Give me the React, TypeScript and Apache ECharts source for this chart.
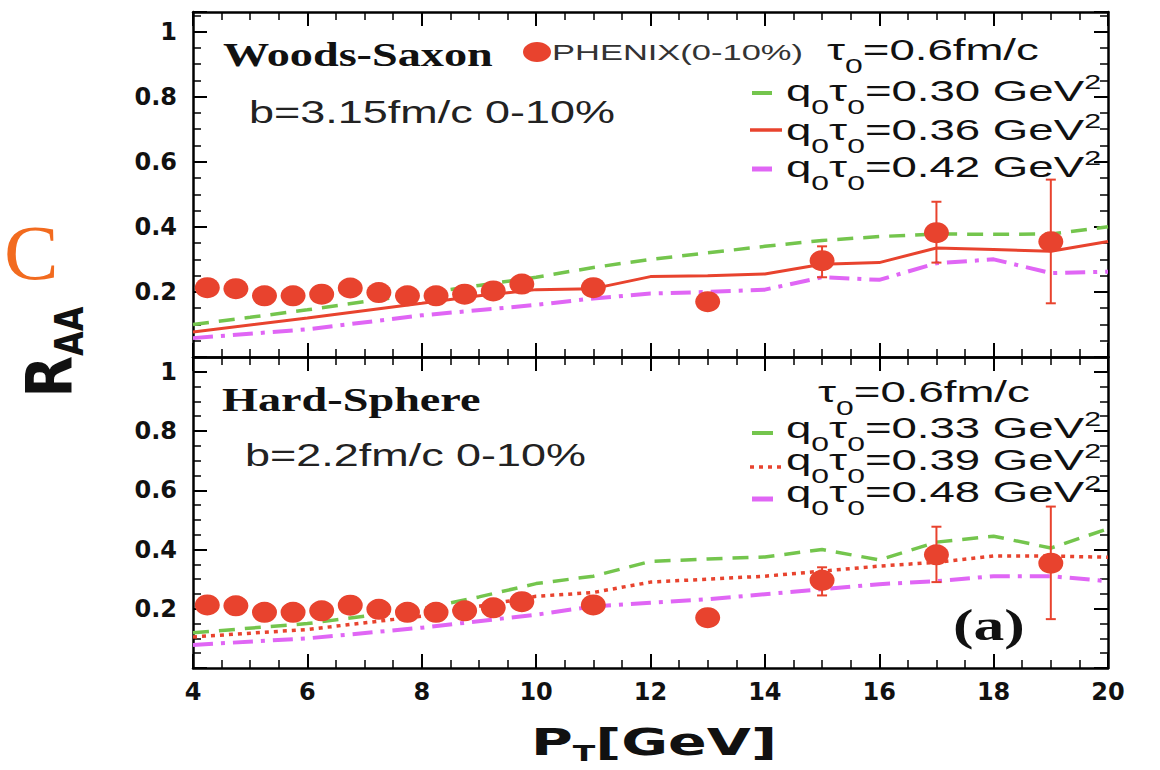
import React, { useEffect, useRef } from "react";
import * as echarts from "echarts";

// PHENIX data (0-10%)
const ptData = [4.25, 4.75, 5.25, 5.75, 6.25, 6.75, 7.25, 7.75, 8.25, 8.75, 9.25, 9.75, 11, 13, 15, 17, 19];
const raaData = [0.213, 0.21, 0.188, 0.188, 0.193, 0.212, 0.198, 0.188, 0.188, 0.193, 0.203, 0.224, 0.213, 0.17, 0.296, 0.382, 0.354];
const errPt = [15, 17, 19];
const errLow = [0.245, 0.29, 0.165];
const errHigh = [0.34, 0.477, 0.545];

// Woods-Saxon curves
const wsGreenX = [4, 5, 6, 7, 8, 9, 10, 11, 12, 13, 14, 15, 16, 17, 18, 19, 20];
const wsGreenY = [0.1, 0.122, 0.145, 0.17, 0.195, 0.22, 0.245, 0.275, 0.3, 0.32, 0.34, 0.358, 0.37, 0.378, 0.377, 0.378, 0.4];
const wsRedX = [4, 6, 8, 9, 10, 11, 12, 13, 14, 15, 16, 17, 18, 19, 20];
const wsRedY = [0.077, 0.12, 0.165, 0.188, 0.207, 0.21, 0.247, 0.25, 0.255, 0.285, 0.29, 0.335, 0.33, 0.325, 0.355];
const wsMagX = [4, 6, 8, 10, 11, 12, 13, 14, 15, 16, 17, 18, 19, 20];
const wsMagY = [0.058, 0.085, 0.128, 0.16, 0.18, 0.195, 0.2, 0.207, 0.245, 0.237, 0.288, 0.3, 0.258, 0.262];

// Hard-Sphere curves
const hsGreenX = [4, 6, 8, 9, 10, 11, 12, 13, 14, 15, 16, 17, 18, 19, 20];
const hsGreenY = [0.119, 0.15, 0.2, 0.24, 0.285, 0.31, 0.36, 0.368, 0.375, 0.4, 0.365, 0.425, 0.445, 0.405, 0.47];
const hsRedX = [4, 6, 8, 10, 11, 12, 13, 14, 15, 16, 17, 18, 19, 20];
const hsRedY = [0.105, 0.13, 0.175, 0.242, 0.255, 0.29, 0.3, 0.31, 0.327, 0.344, 0.357, 0.378, 0.378, 0.374];
const hsMagX = [4, 6, 8, 10, 11, 12, 13, 14, 15, 16, 17, 18, 19, 20];
const hsMagY = [0.078, 0.1, 0.136, 0.18, 0.208, 0.22, 0.232, 0.249, 0.266, 0.283, 0.293, 0.31, 0.31, 0.293];

const wsLegend = ["0.30", "0.36", "0.42"];
const hsLegend = ["0.33", "0.39", "0.48"];

const GREEN = "#74c54d";
const RED = "#e8432e";
const MAG = "#e066f5";
const SANS = "'Liberation Sans', Arial, sans-serif";
const SERIF = "'Liberation Serif', 'Times New Roman', serif";
const BOLD = "'DejaVu Sans', sans-serif";

const zip = (xs: number[], ys: number[]) => xs.map((x, i) => [x, ys[i]]);

const axisLineStyle = { color: "#000", width: 2.5 };

function xAx(grid: number, pos: string, labels: boolean) {
  return {
    type: "value", gridIndex: grid, position: pos, min: 4, max: 20, interval: 2,
    axisLine: { show: true, onZero: false, lineStyle: axisLineStyle },
    axisTick: { show: true, inside: true, length: 14, lineStyle: { color: "#000", width: 2 } },
    minorTick: { show: true, splitNumber: 4, length: 8, lineStyle: { color: "#000", width: 1.5 } },
    splitLine: { show: false }, minorSplitLine: { show: false },
    axisLabel: labels
      ? { show: true, margin: 12, color: "#111", fontFamily: BOLD, fontWeight: "bold", fontSize: 24 }
      : { show: false },
  };
}

function yAx(grid: number, pos: string, labels: boolean, max: number) {
  return {
    type: "value", gridIndex: grid, position: pos, min: 0, max, interval: 0.2,
    axisLine: { show: true, onZero: false, lineStyle: axisLineStyle },
    axisTick: { show: true, inside: true, length: 14, lineStyle: { color: "#000", width: 2 } },
    minorTick: { show: true, splitNumber: 4, length: 8, lineStyle: { color: "#000", width: 1.5 } },
    splitLine: { show: false }, minorSplitLine: { show: false },
    axisLabel: labels
      ? {
          show: true, margin: 16, color: "#111", fontFamily: BOLD, fontWeight: "bold", fontSize: 24,
          formatter: (v: number) => {
            if (v < 0.01) return "";
            const r = Math.round(v * 5);
            if (Math.abs(v * 5 - r) > 1e-6) return "";
            return String(+v.toFixed(1));
          },
        }
      : { show: false },
  };
}

function errSeries(xi: number, yi: number) {
  return {
    type: "custom", xAxisIndex: xi, yAxisIndex: yi, z: 4,
    data: errPt.map((x, i) => [x, errLow[i], errHigh[i]]),
    encode: { x: 0, y: [1, 2] },
    renderItem: (_p: any, api: any) => {
      const x = api.value(0);
      const a = api.coord([x, api.value(1)]);
      const b = api.coord([x, api.value(2)]);
      const w = 5;
      const st = { stroke: RED, lineWidth: 2 };
      return {
        type: "group",
        children: [
          { type: "line", shape: { x1: a[0], y1: a[1], x2: b[0], y2: b[1] }, style: st },
          { type: "line", shape: { x1: a[0] - w, y1: a[1], x2: a[0] + w, y2: a[1] }, style: st },
          { type: "line", shape: { x1: b[0] - w, y1: b[1], x2: b[0] + w, y2: b[1] }, style: st },
        ],
      };
    },
  };
}

function lineSeries(name: string, xi: number, yi: number, data: number[][], color: string, width: number, type: any) {
  return {
    type: "line", name, xAxisIndex: xi, yAxisIndex: yi, data, showSymbol: false, symbol: "none",
    smooth: false, z: 3, lineStyle: { color, width, type },
  };
}

function scatterSeries(xi: number, yi: number) {
  return {
    type: "scatter", name: "PHENIX(0-10%)", xAxisIndex: xi, yAxisIndex: yi, z: 5,
    data: zip(ptData, raaData), symbol: "circle", symbolSize: [25, 21],
    itemStyle: { color: RED, opacity: 1 },
  };
}

type Seg = { t: string; size: number; dy: number };

let measureCtx: CanvasRenderingContext2D | null = null;
function textWidth(t: string, size: number, family: string, weight: string) {
  if (!measureCtx) measureCtx = document.createElement("canvas").getContext("2d");
  if (!measureCtx) return t.length * size * 0.55;
  measureCtx.font = `${weight} ${size}px ${family}`;
  return measureCtx.measureText(t).width;
}

function seqText(
  x: number, y: number, segs: Seg[],
  o: { family: string; weight: string; color: string; scaleX?: number; scaleY?: number; rotation?: number; center?: boolean }
) {
  const widths = segs.map((s) => textWidth(s.t, s.size, o.family, o.weight));
  const total = widths.reduce((a, b) => a + b, 0);
  let cur = o.center ? -total / 2 : 0;
  const children = segs.map((s, i) => {
    const el = {
      type: "text", x: cur, y: s.dy,
      style: {
        x: 0, y: 0, text: s.t, fontFamily: o.family, fontWeight: o.weight, fontSize: s.size,
        fill: o.color, align: "left", verticalAlign: "middle",
      },
    };
    cur += widths[i];
    return el;
  });
  return {
    type: "group", x, y, z: 10, scaleX: o.scaleX ?? 1, scaleY: o.scaleY ?? 1, rotation: o.rotation ?? 0,
    children,
  };
}

const LEG_SCALE = 1.52;
const legOpts = { family: SANS, weight: "normal", color: "#111", scaleX: LEG_SCALE };

function qLabel(x: number, cy: number, v: string) {
  return seqText(x, cy, [
    { t: "q", size: 30, dy: 0 },
    { t: "0", size: 21, dy: 16 },
    { t: "τ", size: 30, dy: 0 },
    { t: "0", size: 21, dy: 16 },
    { t: `=${v} GeV`, size: 30, dy: 0 },
    { t: "2", size: 20, dy: -9 },
  ], legOpts);
}

function tauLabel(x: number, cy: number) {
  return seqText(x, cy, [
    { t: "τ", size: 30, dy: 0 },
    { t: "0", size: 21, dy: 16 },
    { t: "=0.6fm/c", size: 30, dy: 0 },
  ], legOpts);
}

function legendRows(vals: string[], rows: number[], sampleStyles: any[]) {
  const els: any[] = [];
  vals.forEach((v, i) => {
    const s = sampleStyles[i];
    els.push({
      type: "line", z: 10,
      shape: { x1: s.x1, y1: rows[i] + s.dy, x2: s.x2, y2: rows[i] + s.dy },
      style: { stroke: s.color, lineWidth: s.width, lineDash: s.dash },
    });
    els.push(qLabel(786, rows[i], v));
  });
  return els;
}

function plainText(x: number, cy: number, text: string, font: string, size: number, weight: string, scaleX: number, color = "#111") {
  return {
    type: "text", x, y: cy, scaleX, z: 10,
    style: { x: 0, y: 0, text, fontFamily: font, fontSize: size, fontWeight: weight, fill: color, align: "left", verticalAlign: "middle" },
  };
}

export default function App() {
  const ref = useRef<HTMLDivElement>(null);
  useEffect(() => {
    if (!ref.current) return;
    const chart = echarts.init(ref.current, undefined, { renderer: "svg" });
    const graphic: any[] = [
      plainText(4, 253, "C", SERIF, 78, "normal", 1.05, "#f26b1f"),
      seqText(50, 352, [
        { t: "R", size: 54, dy: 0 },
        { t: "AA", size: 32, dy: 16 },
      ], { family: BOLD, weight: "bold", color: "#111", scaleY: 1.2, rotation: Math.PI / 2, center: true }),
      seqText(531, 742, [
        { t: "P", size: 38, dy: 0 },
        { t: "T", size: 22, dy: 12 },
        { t: "[GeV]", size: 38, dy: 0 },
      ], { family: BOLD, weight: "bold", color: "#111", scaleX: 1.5 }),
      // top panel annotations
      plainText(223, 55, "Woods-Saxon", SERIF, 34, "bold", 1.36),
      { type: "ellipse", z: 10, shape: { cx: 537, cy: 52, rx: 14, ry: 10 }, style: { fill: RED } },
      plainText(552, 52, "PHENIX(0-10%)", SANS, 23, "normal", 1.5, "#333"),
      tauLabel(827, 50),
      plainText(249, 112, "b=3.15fm/c 0-10%", SANS, 31, "normal", 1.45, "#222"),
      ...legendRows(wsLegend, [91, 130, 167], [
        { x1: 752, x2: 772, dy: 2, color: GREEN, width: 4, dash: null },
        { x1: 750, x2: 782, dy: 0, color: RED, width: 3.5, dash: null },
        { x1: 752, x2: 772, dy: 2, color: MAG, width: 5, dash: null },
      ]),
      // bottom panel annotations
      plainText(222, 400, "Hard-Sphere", SERIF, 34, "bold", 1.36),
      tauLabel(818, 392),
      plainText(245, 455, "b=2.2fm/c 0-10%", SANS, 31, "normal", 1.45, "#222"),
      ...legendRows(hsLegend, [428, 460, 492], [
        { x1: 752, x2: 773, dy: 5, color: GREEN, width: 4, dash: null },
        { x1: 750, x2: 782, dy: 7, color: RED, width: 3.5, dash: [4, 5] },
        { x1: 752, x2: 773, dy: 7, color: MAG, width: 5, dash: null },
      ]),
      plainText(953, 625, "(a)", SERIF, 44, "bold", 1.4),
    ];

    chart.setOption({
      animation: false,
      backgroundColor: "#fff",
      grid: [
        { left: 193, top: 12, width: 915, height: 345 },
        { left: 193, top: 357, width: 915, height: 311 },
      ],
      xAxis: [xAx(0, "bottom", false), xAx(0, "top", false), xAx(1, "bottom", true), xAx(1, "top", false)],
      yAxis: [yAx(0, "left", true, 1.06), yAx(0, "right", false, 1.06), yAx(1, "left", true, 1.05), yAx(1, "right", false, 1.05)],
      series: [
        lineSeries("q0τ0=0.30 GeV²", 0, 0, zip(wsGreenX, wsGreenY), GREEN, 3.5, [16, 10]),
        lineSeries("q0τ0=0.36 GeV²", 0, 0, zip(wsRedX, wsRedY), RED, 3, "solid"),
        lineSeries("q0τ0=0.42 GeV²", 0, 0, zip(wsMagX, wsMagY), MAG, 4, [20, 8, 4, 8]),
        errSeries(0, 0),
        scatterSeries(0, 0),
        lineSeries("q0τ0=0.33 GeV²", 2, 2, zip(hsGreenX, hsGreenY), GREEN, 3.5, [16, 10]),
        lineSeries("q0τ0=0.39 GeV²", 2, 2, zip(hsRedX, hsRedY), RED, 3.5, [4, 5]),
        lineSeries("q0τ0=0.48 GeV²", 2, 2, zip(hsMagX, hsMagY), MAG, 4, [20, 8, 4, 8]),
        errSeries(2, 2),
        scatterSeries(2, 2),
      ],
      graphic,
    });
    return () => chart.dispose();
  }, []);
  return (
    <div
      ref={ref}
      style={{ position: "fixed", left: 0, top: 0, width: 1160, height: 770, background: "#fff" }}
    />
  );
}
